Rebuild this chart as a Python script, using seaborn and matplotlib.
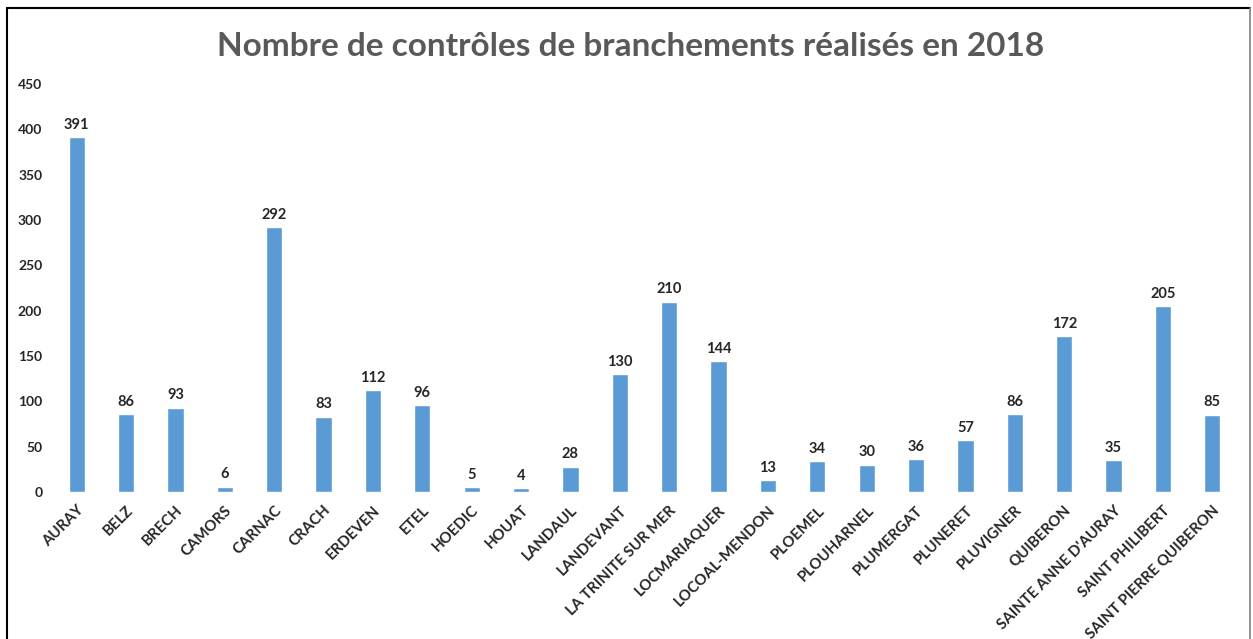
import matplotlib
matplotlib.use('Agg')
import matplotlib.pyplot as plt
import seaborn as sns
import pandas as pd

# communes et nombre de controles
communes = ['AURAY', 'BELZ', 'BRECH', 'CAMORS', 'CARNAC', 'CRACH', 'ERDEVEN', 'ETEL',
            'HOEDIC', 'HOUAT', 'LANDAUL', 'LANDEVANT', 'LA TRINITE SUR MER',
            'LOCMARIAQUER', 'LOCOAL-MENDON', 'PLOEMEL', 'PLOUHARNEL', 'PLUMERGAT',
            'PLUNERET', 'PLUVIGNER', 'QUIBERON', "SAINTE ANNE D'AURAY",
            'SAINT PHILIBERT', 'SAINT PIERRE QUIBERON']
controles = [391, 86, 93, 6, 292, 83, 112, 96, 5, 4, 28, 130, 210, 144, 13, 34, 30,
             36, 57, 86, 172, 35, 205, 85]
y_ticks = [0, 50, 100, 150, 200, 250, 300, 350, 400, 450]

df = pd.DataFrame({'commune': communes, 'n': controles})

sns.set_style('white')
plt.rcParams['font.family'] = ['Lato', 'DejaVu Sans']

fig = plt.figure(figsize=(12.53, 6.39), dpi=100)
ax = fig.add_axes([52 / 1253, 1 - 492 / 639, (1237 - 52) / 1253, (492 - 84) / 639])

sns.barplot(data=df, x='commune', y='n', color='#5B9BD5', width=0.33,
            saturation=1, ax=ax)

for i, v in enumerate(controles):
    ax.text(i, v + 6, str(v), ha='center', va='bottom', fontsize=10.5,
            fontweight='bold', color='#262626')

ax.set_ylim(0, 450)
ax.set_xlim(-0.5, len(communes) - 0.5)
ax.set_yticks(y_ticks)
ax.set_yticklabels([str(t) for t in y_ticks], fontsize=10, fontweight='bold',
                   color='#262626')
ax.set_xticks(range(len(communes)))
ax.set_xticklabels(communes, rotation=45, ha='right', rotation_mode='anchor',
                   fontsize=10.8, fontweight='bold', color='#262626')
ax.tick_params(axis='x', length=0, pad=8)
ax.tick_params(axis='y', length=0, pad=7)
ax.set_xlabel('')
ax.set_ylabel('')
for s in ax.spines.values():
    s.set_visible(False)

fig.text(0.503, 1 - 46 / 639, 'Nombre de contrôles de branchements réalisés en 2018',
         ha='center', va='center', fontsize=24, fontweight='bold', color='#595959')

# cadre autour du graphique
fig.add_artist(plt.Line2D([7 / 1253, 7 / 1253], [0, 1 - 8 / 639], color='black', lw=1.5))
fig.add_artist(plt.Line2D([7 / 1253, 1250 / 1253], [1 - 8 / 639, 1 - 8 / 639], color='black', lw=1.5))
fig.add_artist(plt.Line2D([1250 / 1253, 1250 / 1253], [0, 1 - 8 / 639], color='#808080', lw=1.2))

fig.savefig('out.png', dpi=100)
